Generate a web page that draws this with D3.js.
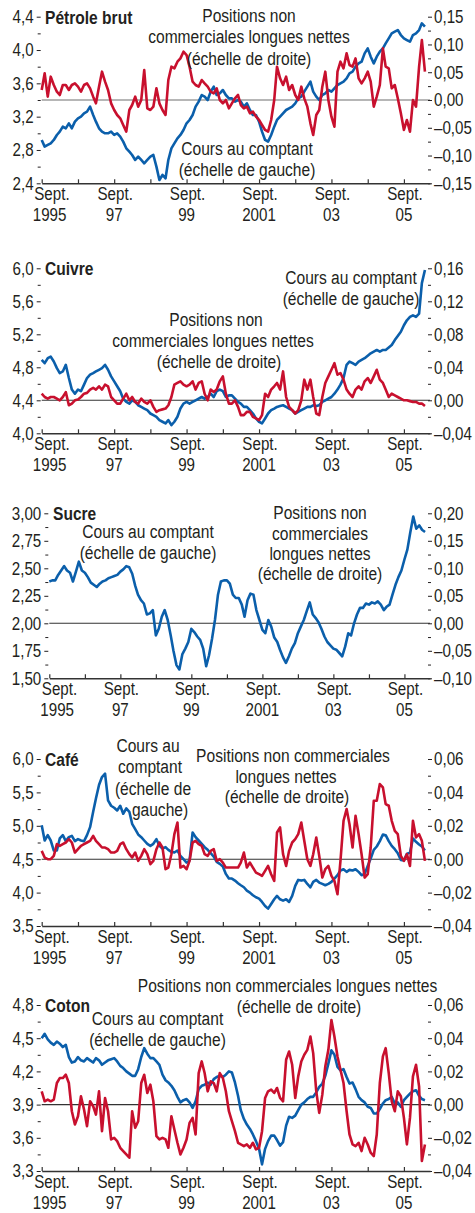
<!DOCTYPE html>
<html>
<head>
<meta charset="utf-8">
<script src="https://cdn.jsdelivr.net/npm/d3@7"></script>
<style>
  html, body { margin: 0; padding: 0; background: #ffffff; }
  svg { display: block; }
  text { font-family: 'Liberation Sans', Arial, sans-serif; fill: #231f20; }
</style>
</head>
<body>
<svg id="chart" width="475" height="1213"></svg>
<script>
// Monthly observations, September 1995 to April 2006.
// Spot prices (log, left scale) and net non-commercial long positions (right scale).

const petroleSpot = [
  2.92, 2.84, 2.86, 2.88, 2.92, 2.98, 3.02, 3.08, 3.06, 3.12,
  3.06, 3.14, 3.18, 3.20, 3.24, 3.26, 3.32, 3.22, 3.14, 3.06,
  3.02, 3.00, 3.00, 3.02, 2.98, 3.00, 2.96, 2.90, 2.82, 2.78,
  2.74, 2.68, 2.72, 2.68, 2.64, 2.68, 2.72, 2.74, 2.60, 2.44,
  2.50, 2.46, 2.68, 2.82, 2.88, 2.94, 2.98, 3.04, 3.12, 3.16,
  3.22, 3.32, 3.38, 3.46, 3.44, 3.40, 3.50, 3.56, 3.46, 3.48,
  3.52, 3.46, 3.42, 3.42, 3.38, 3.40, 3.38, 3.32, 3.36, 3.28,
  3.22, 3.22, 3.14, 3.02, 2.92, 2.90, 2.98, 3.08, 3.16, 3.20,
  3.24, 3.28, 3.30, 3.32, 3.36, 3.42, 3.44, 3.50, 3.56, 3.62,
  3.50, 3.44, 3.40, 3.46, 3.48, 3.52, 3.50, 3.54, 3.58, 3.60,
  3.62, 3.66, 3.72, 3.74, 3.80, 3.84, 3.86, 3.96, 4.02, 3.92,
  3.84, 3.92, 3.98, 4.02, 4.08, 4.14, 4.20, 4.22, 4.24, 4.18,
  4.14, 4.12, 4.10, 4.18, 4.20, 4.24, 4.32, 4.28
];
const petroleNet = [
  0.018, 0.048, 0.006, 0.042, 0.027, 0.015, 0.009, 0.027, 0.027, 0.018,
  0.027, 0.030, 0.024, 0.015, 0.027, 0.030, 0.021, 0.006, -0.006, 0.024,
  0.051, 0.033, 0.018, -0.006, -0.018, -0.027, -0.033, -0.045, -0.057, -0.018,
  -0.009, 0.006, -0.012, 0.000, 0.054, -0.015, -0.018, -0.012, 0.021, -0.006,
  -0.018, -0.027, 0.036, 0.060, 0.057, 0.069, 0.075, 0.087, 0.081, 0.060,
  0.033, 0.027, 0.024, 0.036, 0.030, 0.024, 0.015, 0.012, 0.021, 0.000,
  -0.006, 0.000, -0.015, -0.006, 0.003, 0.009, -0.009, -0.015, -0.012, -0.024,
  -0.021, -0.030, -0.036, -0.045, -0.054, -0.057, -0.036, 0.000, 0.060, 0.039,
  0.027, 0.042, 0.018, 0.027, 0.009, 0.000, 0.024, 0.003, -0.012, -0.042,
  -0.063, -0.027, -0.018, 0.024, 0.051, 0.000, -0.030, -0.048, 0.051, 0.069,
  0.057, 0.084, 0.063, 0.060, 0.075, 0.039, 0.030, 0.039, 0.051, 0.033,
  -0.012, 0.006, 0.027, 0.093, 0.060, 0.057, 0.021, 0.027, 0.003, -0.024,
  -0.054, -0.036, -0.057, 0.000, -0.012, 0.060, 0.108, 0.051
];

const cuivreSpot = [
  4.89, 4.85, 4.91, 4.93, 4.87, 4.79, 4.73, 4.75, 4.83, 4.67,
  4.53, 4.48, 4.53, 4.51, 4.59, 4.67, 4.71, 4.73, 4.75, 4.77,
  4.79, 4.83, 4.77, 4.69, 4.63, 4.57, 4.51, 4.42, 4.38, 4.36,
  4.40, 4.38, 4.34, 4.32, 4.30, 4.28, 4.24, 4.22, 4.20, 4.16,
  4.14, 4.12, 4.16, 4.10, 4.14, 4.20, 4.30, 4.36, 4.38, 4.36,
  4.38, 4.40, 4.42, 4.44, 4.42, 4.44, 4.48, 4.44, 4.51, 4.53,
  4.51, 4.44, 4.46, 4.46, 4.42, 4.38, 4.36, 4.32, 4.32, 4.28,
  4.24, 4.18, 4.14, 4.12, 4.18, 4.24, 4.28, 4.30, 4.32, 4.33,
  4.34, 4.32, 4.30, 4.28, 4.24, 4.26, 4.28, 4.30, 4.32, 4.32,
  4.34, 4.33, 4.34, 4.38, 4.40, 4.42, 4.44, 4.48, 4.53, 4.59,
  4.67, 4.83, 4.87, 4.85, 4.83, 4.87, 4.89, 4.91, 4.94, 4.97,
  4.99, 5.01, 4.99, 5.01, 5.01, 5.04, 5.07, 5.13, 5.18, 5.23,
  5.31, 5.37, 5.41, 5.43, 5.41, 5.45, 5.82, 5.98
];
const cuivreNet = [
  0.008, 0.004, 0.002, 0.004, 0.004, 0.002, 0.000, 0.004, 0.010, -0.006,
  -0.004, 0.000, 0.001, 0.004, 0.008, 0.009, 0.013, 0.015, 0.013, 0.017,
  0.013, 0.019, 0.017, 0.004, 0.000, -0.004, -0.004, 0.002, 0.008, 0.000,
  0.004, -0.002, -0.004, 0.002, -0.002, -0.004, 0.000, -0.008, -0.014, -0.012,
  -0.011, -0.010, -0.006, 0.004, 0.019, 0.021, 0.023, 0.019, 0.017, 0.019,
  0.023, 0.013, 0.021, 0.023, 0.008, 0.000, 0.013, 0.010, 0.013, 0.023,
  0.029, 0.008, -0.004, -0.004, 0.000, -0.008, -0.018, -0.018, -0.014, -0.014,
  -0.020, -0.022, -0.024, -0.018, 0.008, 0.004, 0.013, 0.017, 0.021, 0.013,
  0.035, 0.004, -0.008, -0.012, -0.016, -0.012, 0.000, 0.025, 0.013, 0.025,
  0.004, -0.016, -0.018, 0.004, 0.021, 0.029, 0.037, 0.045, 0.031, 0.033,
  0.025, 0.013, 0.008, 0.004, 0.013, 0.017, 0.013, 0.023, 0.027, 0.021,
  0.029, 0.037, 0.025, 0.021, 0.013, 0.004, 0.008, 0.006, 0.004, 0.002,
  0.000, 0.000, -0.001, -0.002, -0.002, -0.004, -0.004, -0.007
];

const sucreSpot = [
  2.38, 2.39, 2.39, 2.44, 2.48, 2.52, 2.48, 2.46, 2.38, 2.47,
  2.56, 2.48, 2.46, 2.42, 2.37, 2.35, 2.33, 2.36, 2.38, 2.39,
  2.41, 2.42, 2.43, 2.44, 2.47, 2.49, 2.52, 2.51, 2.45, 2.34,
  2.26, 2.21, 2.18, 2.08, 2.09, 2.12, 1.89, 1.95, 2.06, 2.12,
  2.03, 1.89, 1.75, 1.62, 1.58, 1.72, 1.77, 1.83, 1.95, 1.92,
  1.88, 1.85, 1.77, 1.61, 1.71, 1.86, 2.03, 2.26, 2.38, 2.39,
  2.39, 2.36, 2.26, 2.23, 2.23, 2.17, 2.06, 2.21, 2.27, 2.26,
  2.12, 2.03, 1.94, 1.91, 2.03, 1.97, 1.87, 1.83, 1.76, 1.69,
  1.64, 1.70, 1.77, 1.82, 1.91, 1.97, 2.03, 2.11, 2.19, 2.08,
  2.05, 2.01, 1.95, 1.88, 1.83, 1.80, 1.77, 1.76, 1.73, 1.70,
  1.79, 1.91, 1.89, 2.00, 2.08, 2.14, 2.14, 2.18, 2.17, 2.19,
  2.18, 2.20, 2.17, 2.12, 2.15, 2.17, 2.26, 2.35, 2.42, 2.48,
  2.58, 2.67, 2.83, 2.97, 2.86, 2.89, 2.85, 2.83
];

const cafeSpot = [
  5.01, 4.78, 4.86, 4.78, 4.63, 4.63, 4.81, 4.86, 4.77, 4.83,
  4.85, 4.77, 4.80, 4.78, 4.77, 4.86, 4.98, 5.21, 5.41, 5.61,
  5.73, 5.78, 5.38, 5.30, 5.27, 5.23, 5.30, 5.18, 5.26, 5.21,
  5.03, 4.95, 4.87, 4.83, 4.78, 4.73, 4.70, 4.73, 4.80, 4.70,
  4.66, 4.68, 4.64, 4.61, 4.60, 4.63, 4.55, 4.50, 4.45, 4.48,
  4.90, 4.83, 4.78, 4.73, 4.68, 4.64, 4.59, 4.54, 4.46, 4.43,
  4.39, 4.28, 4.21, 4.21, 4.18, 4.14, 4.11, 4.08, 4.03, 4.00,
  3.96, 3.93, 3.91, 3.86, 3.80, 3.76, 3.83, 3.90, 3.95, 3.90,
  3.88, 3.90, 3.86, 3.95, 4.10, 4.19, 4.18, 4.19, 4.13, 4.08,
  4.16, 4.19, 4.15, 4.13, 4.11, 4.13, 4.16, 4.21, 4.26, 4.33,
  4.35, 4.31, 4.34, 4.33, 4.35, 4.31, 4.26, 4.28, 4.40, 4.51,
  4.64, 4.69, 4.77, 4.87, 4.86, 4.77, 4.70, 4.65, 4.59, 4.49,
  4.48, 4.58, 4.60, 4.81, 4.76, 4.72, 4.69, 4.63
];
const cafeNet = [
  0.005, 0.001, 0.000, 0.000, 0.002, 0.009, 0.008, 0.009, 0.010, 0.012,
  0.010, 0.004, 0.006, 0.008, 0.009, 0.010, 0.011, 0.014, 0.011, 0.009,
  0.007, 0.007, 0.006, 0.004, 0.004, 0.005, 0.009, 0.010, 0.006, 0.003,
  0.001, 0.004, -0.001, 0.002, 0.006, 0.003, -0.003, -0.001, 0.006, 0.010,
  0.007, -0.006, -0.005, 0.003, 0.015, 0.022, -0.005, -0.004, -0.006, -0.001,
  0.010, 0.011, 0.009, 0.008, 0.003, 0.002, 0.005, 0.006, -0.001, 0.000,
  -0.002, -0.005, -0.005, -0.005, -0.005, -0.005, -0.002, 0.004, -0.005, -0.002,
  -0.005, -0.008, -0.009, -0.010, -0.007, -0.004, -0.009, -0.013, 0.016, 0.019,
  0.003, -0.004, 0.005, 0.010, 0.012, 0.015, 0.022, 0.011, 0.000, -0.004,
  0.003, 0.013, 0.002, -0.011, -0.006, -0.004, -0.010, -0.013, -0.021, -0.001,
  0.023, 0.030, 0.021, 0.007, 0.026, 0.015, 0.003, -0.011, -0.009, 0.007,
  0.035, 0.035, 0.045, 0.043, 0.033, 0.032, 0.023, 0.017, 0.015, 0.002,
  -0.001, 0.003, -0.004, 0.023, 0.013, 0.015, 0.011, -0.001
];

const cotonSpot = [
  4.50, 4.54, 4.49, 4.46, 4.44, 4.47, 4.45, 4.42, 4.44, 4.33,
  4.28, 4.29, 4.33, 4.30, 4.29, 4.32, 4.30, 4.28, 4.32, 4.30,
  4.26, 4.28, 4.30, 4.31, 4.32, 4.29, 4.25, 4.23, 4.20, 4.18,
  4.16, 4.16, 4.22, 4.33, 4.41, 4.36, 4.32, 4.32, 4.29, 4.26,
  4.17, 4.12, 4.10, 4.07, 4.03, 3.97, 3.92, 3.94, 3.95, 3.92,
  3.87, 3.93, 4.04, 4.07, 4.08, 4.10, 4.08, 4.13, 4.15, 4.16,
  4.15, 4.17, 4.20, 4.19, 4.10, 3.98, 3.85, 3.77, 3.72, 3.68,
  3.63, 3.57, 3.50, 3.36, 3.50, 3.57, 3.62, 3.62, 3.58, 3.53,
  3.56, 3.71, 3.79, 3.78, 3.80, 3.85, 3.90, 3.92, 3.95, 3.97,
  3.97, 4.01, 4.06, 4.09, 4.16, 4.27, 4.39, 4.35, 4.24, 4.21,
  4.22, 4.15, 4.09, 4.10, 4.04, 3.97, 3.94, 3.92, 3.88, 3.87,
  3.82, 3.82, 3.86, 3.91, 3.94, 3.95, 3.97, 3.91, 3.92, 3.88,
  3.94, 3.97, 4.00, 4.02, 4.03, 3.98, 3.95, 3.94
];
const cotonNet = [
  0.008, 0.002, 0.003, 0.002, 0.003, 0.013, 0.016, 0.016, 0.018, 0.013,
  -0.004, -0.012, -0.007, 0.005, -0.003, -0.013, 0.002, -0.001, -0.006, 0.008,
  -0.016, 0.004, -0.004, -0.021, -0.020, -0.022, -0.026, -0.028, -0.030, -0.032,
  -0.004, -0.014, -0.010, 0.013, 0.018, 0.007, 0.012, 0.002, -0.019, -0.021,
  -0.020, -0.021, -0.026, -0.007, -0.015, -0.023, -0.030, -0.026, -0.021, -0.011,
  -0.008, -0.018, 0.019, 0.026, 0.019, 0.008, 0.014, 0.013, 0.008, 0.019,
  0.016, 0.008, -0.004, -0.010, -0.016, -0.023, -0.024, -0.025, -0.024, -0.026,
  -0.023, -0.027, -0.026, -0.016, 0.004, 0.008, 0.009, 0.007, 0.010, 0.004,
  0.002, 0.027, 0.032, 0.024, 0.004, 0.017, 0.026, 0.030, 0.033, 0.041,
  0.031, 0.008, -0.005, 0.006, 0.023, 0.033, 0.051, 0.041, 0.029, 0.021,
  0.013, -0.004, -0.018, -0.024, -0.025, -0.023, -0.028, -0.020, -0.024, -0.029,
  -0.031, -0.018, 0.013, 0.029, 0.034, 0.019, 0.002, -0.004, 0.008, 0.005,
  -0.008, -0.024, -0.008, 0.017, 0.024, 0.011, -0.034, -0.024
];

// Axis tick values
const petroleLeftTicks = [2.4, 2.8, 3.2, 3.6, 4.0, 4.4];
const petroleRightTicks = [-0.15, -0.10, -0.05, 0.00, 0.05, 0.10, 0.15];
const cuivreLeftTicks = [4.0, 4.4, 4.8, 5.2, 5.6, 6.0];
const cuivreRightTicks = [-0.04, 0.00, 0.04, 0.08, 0.12, 0.16];
const sucreLeftTicks = [1.50, 1.75, 2.00, 2.25, 2.50, 2.75, 3.00];
const sucreRightTicks = [-0.10, -0.05, 0.00, 0.05, 0.10, 0.15, 0.20];
const cafeLeftTicks = [3.5, 4.0, 4.5, 5.0, 5.5, 6.0];
const cafeRightTicks = [-0.04, -0.02, 0.00, 0.02, 0.04, 0.06];
const cotonLeftTicks = [3.3, 3.6, 3.9, 4.2, 4.5, 4.8];
const cotonRightTicks = [-0.04, -0.02, 0.00, 0.02, 0.04, 0.06];

const tickYears = [1995, 1996, 1997, 1998, 1999, 2000, 2001, 2002, 2003, 2004, 2005];
const labelYears = [1995, 1997, 1999, 2001, 2003, 2005];
const yearLabels = ["1995", "97", "99", "2001", "03", "05"];

const startDate = new Date(1995, 8, 1);
const endDate = new Date(2006, 4, 22);
const dates = d3.range(petroleSpot.length).map(i => d3.timeMonth.offset(startDate, i));

const BLUE = "#0b5fab";
const RED = "#c8102e";
const INK = "#231f20";
const X1 = 430;
const SX = 0.82;       // horizontal condensing of the type

const panels = [
  { title: "Pétrole brut", titleX: 45, top: 16.7, bottom: 183.3, x0: 41.7, digits: 1,
    leftTicks: petroleLeftTicks, rightTicks: petroleRightTicks,
    spot: petroleSpot, net: petroleNet, zero: "#6e6e6e",
    notes: [
      { x: [249, 249, 249], y: [22, 43, 64.5], lines: ["Positions non", "commerciales longues nettes", "(échelle de droite)"] },
      { x: [247, 247], y: [155, 175.5], lines: ["Cours au comptant", "(échelle de gauche)"] }
    ] },
  { title: "Cuivre", titleX: 45, top: 268.3, bottom: 433.3, x0: 41.7, digits: 1,
    leftTicks: cuivreLeftTicks, rightTicks: cuivreRightTicks,
    spot: cuivreSpot, net: cuivreNet, zero: "#333",
    notes: [
      { x: [351, 351], y: [284, 305], lines: ["Cours au comptant", "(échelle de gauche)"] },
      { x: [216, 213, 219], y: [326, 347, 368], lines: ["Positions non", "commerciales longues nettes", "(échelle de droite)"] }
    ] },
  { title: "Sucre", titleX: 53, top: 513.3, bottom: 678.3, x0: 49.3, digits: 2,
    leftTicks: sucreLeftTicks, rightTicks: sucreRightTicks,
    spot: sucreSpot, net: null, zero: "#333",
    notes: [
      { x: [148, 148], y: [538, 559], lines: ["Cours au comptant", "(échelle de gauche)"] },
      { x: [320, 320, 320, 320], y: [519, 539.5, 560, 580], lines: ["Positions non", "commerciales", "longues nettes", "(échelle de droite)"] }
    ] },
  { title: "Café", titleX: 45, top: 759, bottom: 926, x0: 41.7, digits: 1,
    leftTicks: cafeLeftTicks, rightTicks: cafeRightTicks,
    spot: cafeSpot, net: cafeNet, zero: "#333",
    notes: [
      { x: [148, 150, 153, 160], y: [752, 773, 795, 816], lines: ["Cours au", "comptant", "(échelle de", "gauche)"] },
      { x: [293, 286, 287], y: [762, 783, 803], lines: ["Positions non commerciales", "longues nettes", "(échelle de droite)"] }
    ] },
  { title: "Coton", titleX: 45, top: 1005, bottom: 1171, x0: 41.7, digits: 1,
    leftTicks: cotonLeftTicks, rightTicks: cotonRightTicks,
    spot: cotonSpot, net: cotonNet, zero: "#333",
    notes: [
      { x: [287.5, 299], y: [992, 1012.5], lines: ["Positions non commerciales longues nettes", "(échelle de droite)"] },
      { x: [157.5, 157.5], y: [1025, 1046], lines: ["Cours au comptant", "(échelle de gauche)"] }
    ] }
];

const svg = d3.select("#chart");

const fmtRight = v => (v < 0 ? "\u2013" : "") + Math.abs(v).toFixed(2).replace(".", ",");
const midpoints = arr => d3.pairs(arr).map(([a, b]) => (a + b) / 2);

// condensed text placed at (x, y)
function addText(parent, x, y, str, anchor, size, bold) {
  return parent.append("text")
    .attr("transform", `translate(${x},${y}) scale(${SX},1)`)
    .attr("text-anchor", anchor)
    .style("font-size", size + "px")
    .style("font-weight", bold ? "bold" : "normal")
    .text(str);
}

function styleAxis(sel, labelX) {
  sel.attr("font-family", null).attr("font-size", null).style("color", INK);
  sel.select(".domain").remove();
  sel.selectAll(".tick text")
    .attr("x", null)
    .attr("transform", `translate(${labelX},0) scale(${SX},1)`)
    .style("font-size", "18.5px");
}

panels.forEach(p => {
  const g = svg.append("g");
  const x = d3.scaleTime().domain([startDate, endDate]).range([p.x0, X1]);
  const yL = d3.scaleLinear().domain(d3.extent(p.leftTicks)).range([p.bottom, p.top]);
  const yR = d3.scaleLinear().domain(d3.extent(p.rightTicks)).range([p.bottom, p.top]);
  const fmtLeft = v => v.toFixed(p.digits).replace(".", ",");

  // zero reference line on the right scale
  g.append("line")
    .attr("x1", p.x0).attr("x2", X1)
    .attr("y1", yR(0)).attr("y2", yR(0))
    .attr("stroke", p.zero).attr("stroke-width", 1.1);

  // series
  const spotLine = d3.line().x((d, i) => x(dates[i])).y(d => yL(d));
  const netLine = d3.line().x((d, i) => x(dates[i])).y(d => yR(d));
  g.append("path").datum(p.spot)
    .attr("d", spotLine).attr("fill", "none")
    .attr("stroke", BLUE).attr("stroke-width", 2.6)
    .attr("stroke-linejoin", "round");
  if (p.net) {
    g.append("path").datum(p.net)
      .attr("d", netLine).attr("fill", "none")
      .attr("stroke", RED).attr("stroke-width", 2.6)
      .attr("stroke-linejoin", "round");
  }

  // left axis: labelled major ticks and unlabelled minor ticks
  g.append("g").attr("transform", `translate(${p.x0 - 1},0)`)
    .call(d3.axisLeft(yL).tickValues(p.leftTicks).tickSize(4).tickFormat(fmtLeft))
    .call(s => styleAxis(s, -7));
  g.append("g").attr("transform", `translate(${p.x0 - 1},0)`)
    .call(d3.axisLeft(yL).tickValues(midpoints(p.leftTicks)).tickSize(3).tickFormat(""))
    .call(s => styleAxis(s, -7));

  // right axis
  g.append("g").attr("transform", `translate(${X1 - 2},0)`)
    .call(d3.axisRight(yR).tickValues(p.rightTicks).tickSize(4).tickFormat(fmtRight))
    .call(s => styleAxis(s, 6));
  g.append("g").attr("transform", `translate(${X1 - 2},0)`)
    .call(d3.axisRight(yR).tickValues(midpoints(p.rightTicks)).tickSize(3).tickFormat(""))
    .call(s => styleAxis(s, 6));

  // bottom time axis with inward ticks every September
  const septs = tickYears.map(yr => new Date(yr, 8, 1));
  const xb = g.append("g").attr("transform", `translate(0,${p.bottom})`)
    .call(d3.axisBottom(x).tickValues(septs).tickSizeInner(-4).tickSizeOuter(0).tickFormat(""));
  xb.attr("font-family", null).attr("font-size", null).style("color", "#333");
  xb.select(".domain").attr("stroke-width", 1.6);
  xb.selectAll(".tick line").attr("stroke-width", 1.2);

  labelYears.forEach((yr, k) => {
    const tx = x(new Date(yr, 8, 1));
    const first = k === 0;
    addText(g, first ? tx - 7.5 : tx + 1, p.bottom + 17, "Sept.", first ? "start" : "middle", 18.5, false);
    addText(g, first ? tx - 9 : tx, p.bottom + 38, yearLabels[k], first ? "start" : "middle", 18.5, false);
  });

  // panel title
  addText(g, p.titleX, p.top + 7, p.title, "start", 19, true);

  // series annotations
  p.notes.forEach(n => {
    n.lines.forEach((line, j) => addText(g, n.x[j], n.y[j], line, "middle", 19, false));
  });
});
</script>
</body>
</html>
